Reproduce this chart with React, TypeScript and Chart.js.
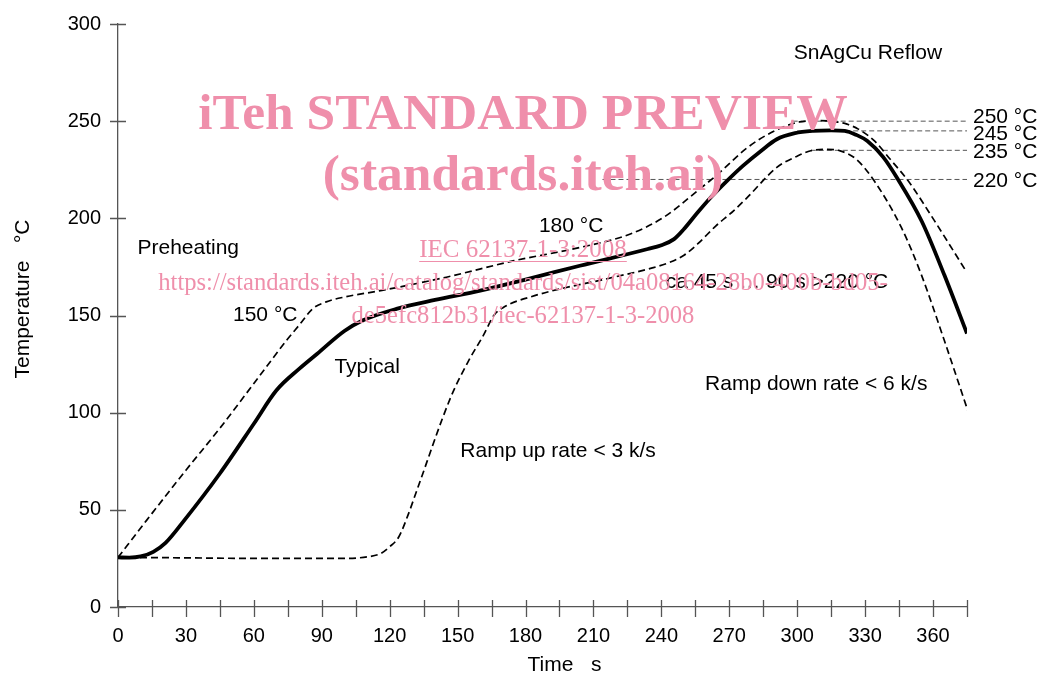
import React, { useEffect, useRef } from "react";
import { Chart, registerables } from "chart.js";

Chart.register(...registerables);

// ---------- data ----------
const typicalTime = [0, 5, 10, 15.6, 21, 29, 45, 60, 70, 80, 88, 100, 108, 123, 140, 160, 180, 204, 234, 240, 245.6, 250, 256, 262, 269, 276, 284, 291, 299, 307, 315, 321, 326, 331, 338, 344, 355, 365, 375];
const typicalTemp = [25.5, 25.4, 26, 28.4, 33, 44.2, 68.7, 94.3, 111.5, 122.5, 130.3, 142, 147.4, 153.4, 158, 162.8, 168.5, 175.6, 184.2, 186.2, 189.3, 194.5, 203, 211, 219.3, 227, 234.7, 240.7, 243.8, 245, 245.3, 245, 243, 239.8, 231.5, 221, 198.5, 170.8, 140.7];

const upperTime = [0, 12.7, 30, 45, 60, 75, 80, 86, 92, 100, 116, 145, 175, 204, 226, 241, 256, 265, 278, 290, 301, 310, 318, 322, 327, 334, 341, 349, 360.6, 374];
const upperTemp = [25.5, 44.7, 70.4, 92, 115, 138, 145, 153.5, 157, 159.5, 162.8, 169.7, 178.2, 185, 191.8, 200.5, 214.2, 222.8, 236.4, 245, 249.6, 250.3, 249.5, 248.5, 245.9, 240, 230.5, 219.3, 198.8, 173.9];

const lowerTime = [0, 30, 60, 100, 110, 116, 120, 124, 128, 132, 147, 155, 161.5, 166, 170, 184, 219, 236, 244, 250, 256, 264, 272, 278, 291, 300, 306, 313, 319, 326, 334, 346, 354.7, 365, 375.3];
const lowerTemp = [25.5, 25.3, 25, 25, 25.8, 27.5, 31, 36, 47, 60, 108, 127, 140, 150, 154, 160.2, 169.7, 174.5, 177.5, 181, 186.8, 196, 204, 210.8, 226.2, 232, 234.8, 235.5, 234.7, 230.5, 219.3, 195.3, 171.4, 137.1, 101.2];

const refLevels = [250, 245, 235, 220];
const refStart = [298, 300, 306, 214];
const refLabels = ["250 °C", "245 °C", "235 °C", "220 °C"];

const xMin = 0;
const xMax = 375;
const xTickStep = 15;
const xLabelStep = 30;
const yMin = 0;
const yMax = 300;
const yTickStep = 50;

const xTitle = "Time   s";
const yTitle = "Temperature   °C";

const annotationTexts = [
  "SnAgCu Reflow",
  "Preheating",
  "150 °C",
  "Typical",
  "180 °C",
  "ca 45 s … 90 s >220 °C",
  "Ramp up rate < 3 k/s",
  "Ramp down rate < 6 k/s",
];
// anchor (time, temperature) of each annotation's left baseline
const annotationTime = [298.5, 8.6, 50.8, 95.6, 185.9, 241.9, 151.2, 259.3];
const annotationTemp = [281.9, 181.8, 147.4, 120.4, 193.1, 164.2, 77.2, 111.5];

const watermarkLines = [
  "iTeh STANDARD PREVIEW",
  "(standards.iteh.ai)",
  "IEC 62137-1-3:2008",
  "https://standards.iteh.ai/catalog/standards/sist/04a08164-28b0-400b-bd05-",
  "de5efc812b31/iec-62137-1-3-2008",
];

const toPoints = (t: number[], v: number[]) => t.map((x, i) => ({ x, y: v[i] }));

const SANS = "'Liberation Sans', Arial, sans-serif";
const SERIF = "'Liberation Serif', 'Times New Roman', serif";
const AXIS_COLOR = "#555";
const PINK = "#ef8fab";

const overlayPlugin = {
  id: "overlay",
  afterDraw(chart: any) {
    const ctx = chart.ctx as CanvasRenderingContext2D;
    const xs = chart.scales.x;
    const ys = chart.scales.y;
    const area = chart.chartArea;
    ctx.save();

    // tick marks crossing the axes
    ctx.strokeStyle = AXIS_COLOR;
    ctx.lineWidth = 1.3;
    ctx.beginPath();
    xs.ticks.forEach((tk: any) => {
      const px = Math.round(xs.getPixelForValue(tk.value)) + 0.5;
      ctx.moveTo(px, area.bottom - 7);
      ctx.lineTo(px, area.bottom + 10);
    });
    ys.ticks.forEach((tk: any) => {
      const py = Math.round(ys.getPixelForValue(tk.value)) + 0.5;
      ctx.moveTo(area.left - 8, py);
      ctx.lineTo(area.left + 8, py);
    });
    ctx.stroke();

    // reference labels on right
    ctx.fillStyle = "#000";
    ctx.font = `21px ${SANS}`;
    ctx.textAlign = "left";
    ctx.textBaseline = "alphabetic";
    const labelNudge = [2, 9, 7.5, 7.5];
    refLevels.forEach((lv, i) => {
      const px = xs.getPixelForValue(xMax) + 6;
      const py = ys.getPixelForValue(lv) + labelNudge[i];
      ctx.fillText(refLabels[i], px, py);
    });

    // annotations
    annotationTexts.forEach((txt, i) => {
      ctx.fillText(txt, xs.getPixelForValue(annotationTime[i]), ys.getPixelForValue(annotationTemp[i]));
    });

    // axis titles
    ctx.textAlign = "center";
    ctx.fillText(xTitle, (area.left + area.right) / 2 + 22, area.bottom + 64);
    ctx.save();
    ctx.translate(29, 299);
    ctx.rotate(-Math.PI / 2);
    ctx.fillText(yTitle, 0, 0);
    ctx.restore();

    // watermark
    ctx.fillStyle = PINK;
    ctx.strokeStyle = PINK;
    ctx.textAlign = "center";
    const cx = 523;
    ctx.font = `bold 51.5px ${SERIF}`;
    ctx.fillText(watermarkLines[0], cx, 129);
    ctx.fillText(watermarkLines[1], cx, 190);
    ctx.font = `25px ${SERIF}`;
    ctx.fillText(watermarkLines[2], cx, 257);
    const w = ctx.measureText(watermarkLines[2]).width;
    ctx.lineWidth = 1;
    ctx.beginPath();
    ctx.moveTo(cx - w / 2, 261.5);
    ctx.lineTo(cx + w / 2, 261.5);
    ctx.stroke();
    ctx.font = `24.6px ${SERIF}`;
    ctx.fillText(watermarkLines[3], cx, 290);
    ctx.fillText(watermarkLines[4], cx, 323);

    ctx.restore();
  },
};

export default function App() {
  const canvasRef = useRef<HTMLCanvasElement | null>(null);

  useEffect(() => {
    document.body.style.margin = "0";
    document.body.style.overflow = "hidden";
    const canvas = canvasRef.current;
    if (!canvas) return;

    const refDatasets = refLevels.map((lv, i) => ({
      label: refLabels[i],
      data: [
        { x: refStart[i], y: lv },
        { x: xMax, y: lv },
      ],
      borderColor: "#555",
      borderWidth: 1,
      borderDash: [5, 3],
      pointRadius: 0,
      tension: 0,
      order: 3,
    }));

    const chart = new Chart(canvas, {
      type: "line",
      data: {
        datasets: [
          {
            label: "Typical",
            data: toPoints(typicalTime, typicalTemp),
            borderColor: "#000",
            borderWidth: 3.8,
            pointRadius: 0,
            cubicInterpolationMode: "monotone",
            order: 0,
          },
          {
            label: "Upper limit",
            data: toPoints(upperTime, upperTemp),
            borderColor: "#000",
            borderWidth: 1.7,
            borderDash: [7, 4],
            pointRadius: 0,
            cubicInterpolationMode: "monotone",
            order: 1,
          },
          {
            label: "Lower limit",
            data: toPoints(lowerTime, lowerTemp),
            borderColor: "#000",
            borderWidth: 1.7,
            borderDash: [7, 4],
            pointRadius: 0,
            cubicInterpolationMode: "monotone",
            order: 1,
          },
          ...refDatasets,
        ],
      } as any,
      options: {
        animation: false,
        responsive: false,
        devicePixelRatio: 1,
        layout: { padding: { left: 0, top: 24, right: 73, bottom: 0 } },
        plugins: {
          legend: { display: false },
          tooltip: { enabled: false },
          title: { display: false },
        },
        scales: {
          x: {
            type: "linear",
            min: xMin,
            max: xMax,
            grid: { display: false },
            border: { display: true, color: AXIS_COLOR, width: 1.3 },
            ticks: {
              stepSize: xTickStep,
              autoSkip: false,
              maxRotation: 0,
              padding: 9,
              color: "#000",
              font: { family: SANS, size: 20 },
              callback: (v: any) => (Number(v) % xLabelStep === 0 ? String(v) : ""),
            },
            afterFit: (s: any) => {
              s.height = 66;
            },
          },
          y: {
            type: "linear",
            min: yMin,
            max: yMax,
            grid: { display: false },
            border: { display: true, color: AXIS_COLOR, width: 1.3 },
            ticks: {
              stepSize: yTickStep,
              padding: 9,
              color: "#000",
              font: { family: SANS, size: 20 },
            },
            afterFit: (s: any) => {
              s.width = 118;
            },
          },
        },
      } as any,
      plugins: [overlayPlugin],
    });

    return () => chart.destroy();
  }, []);

  return (
    <div style={{ width: 1040, height: 673, position: "relative", background: "#fff" }}>
      <canvas ref={canvasRef} width={1040} height={673} />
    </div>
  );
}
